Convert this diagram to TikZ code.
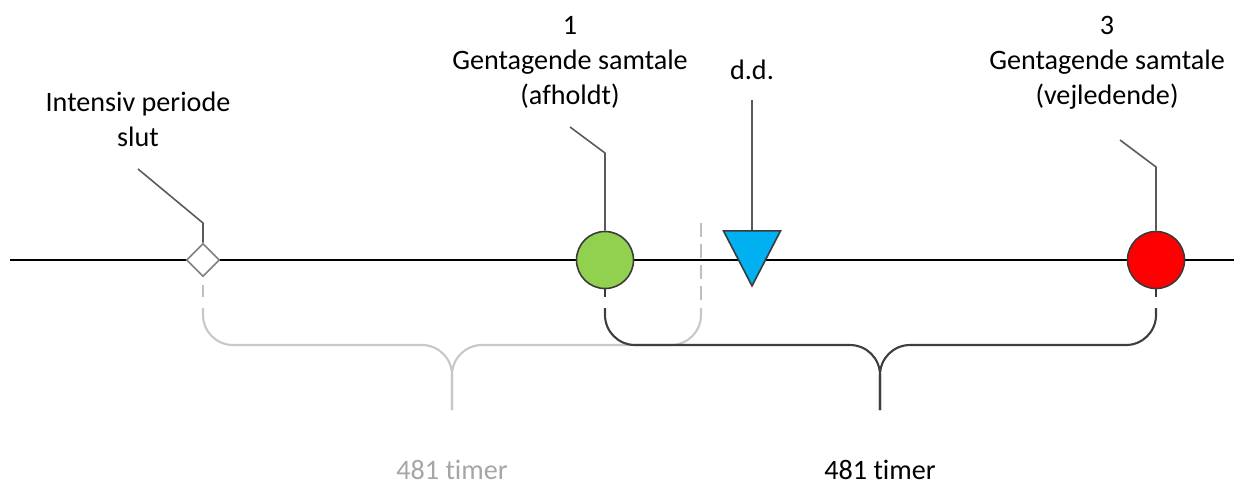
\documentclass[tikz,border=0pt]{standalone}
\usepackage{fontspec}
\setmainfont{Carlito}[Ligatures=NoCommon]
\usepackage{xcolor}
\usetikzlibrary{shapes.geometric,positioning}
\definecolor{ink}{HTML}{000000}
\definecolor{leadgray}{HTML}{5A5A5A}
\definecolor{edge}{HTML}{3A3A3A}
\definecolor{pale}{HTML}{C8C8C8}
\definecolor{paletext}{HTML}{A6A6A6}
\definecolor{dashgray}{HTML}{BFBFBF}
\definecolor{bracedark}{HTML}{3F3F3F}
\definecolor{green}{HTML}{92D050}
\definecolor{red}{HTML}{FF0000}
\definecolor{blue}{HTML}{00B0F0}
\tikzset{
  axis/.style={draw=ink, line width=0.45pt},
  leader/.style={draw=leadgray, line width=0.45pt, line join=round},
  tick/.style={draw=edge, line width=0.6pt},
  marker/.style={circle, draw=edge, line width=0.45pt, minimum size=0.57cm, inner sep=0pt},
  stop/.style={diamond, draw=gray, fill=white, line width=0.45pt, minimum size=0.33cm, inner sep=0pt},
  today/.style={isosceles triangle, isosceles triangle stretches, shape border rotate=270,
    draw=edge, fill=blue, line width=0.45pt, minimum width=0.57cm, minimum height=0.55cm, inner sep=0pt},
  brace/.style={line width=0.6pt, rounded corners=0.3cm},
  lab/.style={text=ink, align=center, inner sep=0pt, font=\fontsize{8}{10}\selectfont},
  labp/.style={lab, text=paletext},
}

\begin{document}
\begin{tikzpicture}[x=0.01cm, y=0.01cm]
  \useasboundingbox (0,0) rectangle (1234,487);
  % time line
  \coordinate (start) at (10,227);
  \coordinate (end) at (1234,227);
  \draw[axis] (start) -- (end);
  % markers on the line
  \node[stop] (slut) at (203,227) {};
  \node[marker, fill=green] (g1) at (605,227) {};
  \node[today, anchor=apex] (dd) at (752,199) {};
  \node[marker, fill=red] (g3) at (1156,227) {};
  % leaders and labels
  \draw[leader] (slut.north) -- (203,264) -- (138,318) coordinate (slutend);
  \node[lab, above=6pt of slutend] (slutlbl) {Intensiv periode\\slut};
  \draw[leader] (g1.north) -- (605,334) -- (570,360) coordinate (g1end);
  \node[lab, above=5pt of g1end] (g1lbl) {1\\Gentagende samtale\\(afholdt)};
  \draw[leader] (dd.lower side) -- (752,387) coordinate (ddend);
  \node[lab, above=5.5pt of ddend] (ddlbl) {d.d.};
  \draw[leader] (g3.north) -- (1156,320) -- (1120,347) coordinate (g3end);
  \node[lab, above=8.5pt of g3end, xshift=-0.13cm] (g3lbl) {3\\Gentagende samtale\\(vejledende)};
  % ticks under the markers
  \draw[tick] (g1.south) -- ++(0,-8);
  \draw[tick] (g3.south) -- ++(0,-8);
  \draw[draw=dashgray, line width=0.6pt] (203,202) -- (203,190);
  \draw[draw=dashgray, line width=0.6pt, dash pattern=on 4pt off 2pt] (701,264) -- (701,180);
  % braces
  \draw[brace, draw=pale] (203,179) -- (203,142) -- (452,142) -- (452,77) coordinate (lmid);
  \draw[brace, draw=pale] (701,179) -- (701,142) -- (452,142) -- (452,77);
  \draw[brace, draw=bracedark] (605,179) -- (605,142) -- (880,142) -- (880,77) coordinate (rmid);
  \draw[brace, draw=bracedark] (1156,179) -- (1156,142) -- (880,142) -- (880,77);
  \node[labp, anchor=base] (ltime) at (452,8) {481 timer};
  \node[lab, anchor=base] (rtime) at (880,8) {481 timer};
\end{tikzpicture}
\end{document}
